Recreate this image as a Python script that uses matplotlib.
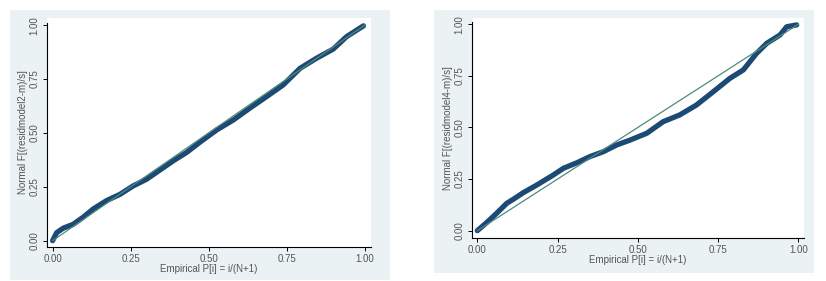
import matplotlib.pyplot as plt
from matplotlib.patches import Rectangle

plt.rcParams['font.family'] = ['Liberation Sans', 'DejaVu Sans']

# left panel: model 2
x_m2 = [0.0, 0.013, 0.034, 0.066, 0.098, 0.130, 0.173, 0.216, 0.258, 0.301, 0.344,
        0.387, 0.429, 0.472, 0.526, 0.579, 0.632, 0.686, 0.739, 0.793, 0.846,
        0.899, 0.942, 0.996]
y_m2 = [0.0, 0.037, 0.058, 0.076, 0.109, 0.147, 0.186, 0.215, 0.254, 0.285, 0.328,
        0.371, 0.409, 0.457, 0.514, 0.560, 0.615, 0.669, 0.723, 0.800, 0.847,
        0.889, 0.947, 0.997]

# right panel: model 4
x_m4 = [0.0, 0.029, 0.060, 0.092, 0.112, 0.143, 0.185, 0.237, 0.268, 0.310, 0.351,
        0.393, 0.434, 0.476, 0.528, 0.579, 0.631, 0.683, 0.735, 0.787, 0.829,
        0.870, 0.902, 0.943, 0.964, 0.995]
y_m4 = [0.0, 0.039, 0.084, 0.133, 0.152, 0.184, 0.221, 0.270, 0.302, 0.329, 0.359,
        0.383, 0.415, 0.439, 0.472, 0.528, 0.561, 0.609, 0.673, 0.738, 0.779,
        0.859, 0.908, 0.948, 0.988, 0.997]

ticks = [0, 0.25, 0.5, 0.75, 1.0]
tick_labels = ['0.00', '0.25', '0.50', '0.75', '1.00']

panels = [
    (x_m2, y_m2, 'Normal F[(residmodel2-m)/s]',
     [0.0565, 0.1221, 0.3926, 0.8128], (-0.019, 1.020), (-0.028, 1.032),
     [0.0121, 0.0036, 0.46, 0.961]),
    (x_m4, y_m4, 'Normal F[(residmodel4-m)/s]',
     [0.5711, 0.1541, 0.4023, 0.7808], (-0.0174, 1.018), (-0.034, 1.029),
     [0.5254, 0.0285, 0.46, 0.936]),
]

fig = plt.figure(figsize=(8.26, 2.81), dpi=100)

for xs, ys, ylab, pos, xl, yl, bg in panels:
    fig.patches.append(Rectangle((bg[0], bg[1]), bg[2], bg[3], transform=fig.transFigure,
                                 facecolor='#eaf2f3', edgecolor='none', zorder=-5))
    ax = fig.add_axes(pos)
    ax.set_zorder(2)
    ax.set_facecolor('white')
    ax.plot(xs, ys, color='#1c4a74', lw=3.8, solid_capstyle='round',
            solid_joinstyle='round', zorder=2)
    ax.plot([0, 1], [0, 1], color='#4d8a7d', lw=0.9, zorder=3)
    ax.set_xlim(*xl)
    ax.set_ylim(*yl)
    ax.set_xticks(ticks)
    ax.set_xticklabels(tick_labels)
    ax.set_yticks(ticks)
    ax.set_yticklabels(tick_labels, rotation=90, va='center')
    ax.tick_params(labelsize=7, labelcolor='#555555', length=3, width=0.7, pad=2)
    ax.spines['top'].set_visible(False)
    ax.spines['right'].set_visible(False)
    ax.spines['left'].set_linewidth(0.8)
    ax.spines['left'].set_bounds(yl[0], 1.01)
    ax.spines['bottom'].set_linewidth(0.8)
    ax.set_xlabel('Empirical P[i] = i/(N+1)', fontsize=7, color='#555555', labelpad=0)
    ax.set_ylabel(ylab, fontsize=7, color='#555555', labelpad=1)

fig.savefig('out.png', dpi=100)
